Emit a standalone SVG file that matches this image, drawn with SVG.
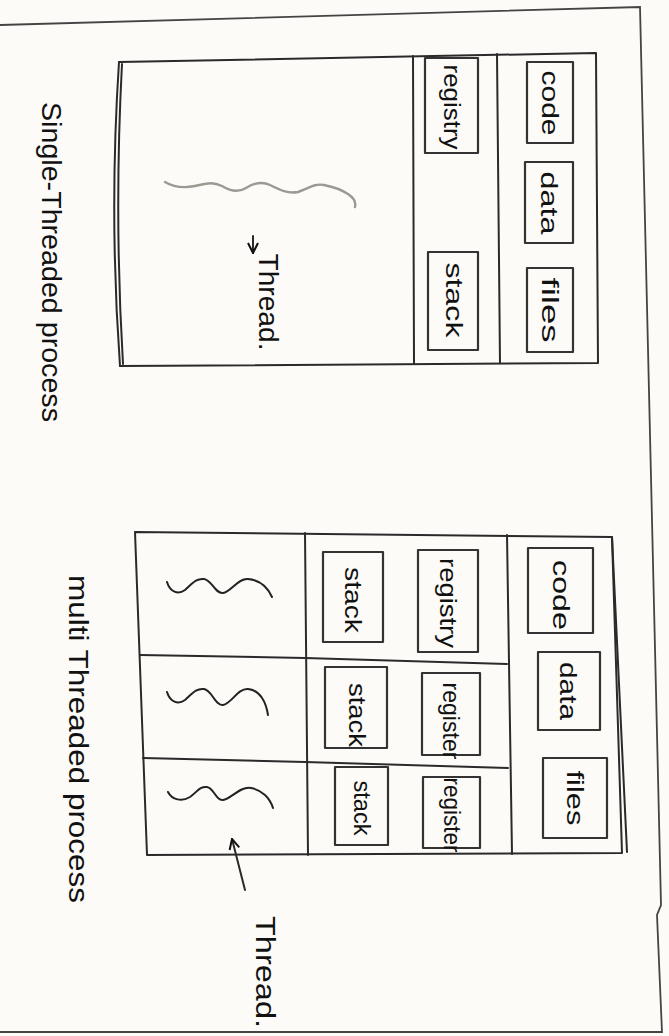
<svg xmlns="http://www.w3.org/2000/svg" width="669" height="1036" viewBox="0 0 669 1036">
<style>
.bg{fill:#fcfbf8}
.ln{fill:none;stroke:#2a2a2a;stroke-width:2;stroke-linecap:round;stroke-linejoin:round}
.box{fill:none;stroke:#333;stroke-width:2.2;stroke-linejoin:round}
.sq{fill:none;stroke:#222;stroke-width:2;stroke-linecap:round}
.sqg{fill:none;stroke:#9a9a92;stroke-width:2.4;stroke-linecap:round}
.pg{fill:none;stroke:#444;stroke-width:1.8}
text{font-family:"Liberation Sans",Arial,sans-serif;fill:#111;text-anchor:middle;dominant-baseline:central}
.bl{font-size:24px}
.lb{font-size:28px}
</style>
<defs>
<marker id="ah" viewBox="0 0 12 12" refX="11" refY="6" markerWidth="12" markerHeight="12" markerUnits="userSpaceOnUse" orient="auto">
<path d="M1,1 L11,6 L1,11" fill="none" stroke="#111" stroke-width="2"/>
</marker>
</defs>
<rect class="bg" x="0" y="0" width="669" height="1036"/>
<g id="page">
<path class="pg" d="M0,25 L640,7 L661,905 L657,915 L662,1032 L0,1032"/>
</g>
<g id="single-process">
<path class="ln" d="M119,62 L596,53 L598,363 L120,366"/>
<path class="ln" d="M119,62 Q109,214 120,366"/>
<path class="ln" d="M122,64 Q114,214 123,364"/>
<path class="ln" d="M413,56 L414,364"/>
<path class="ln" d="M497,54 L500,363"/>
<g id="s-code"><rect class="box" x="527" y="62" width="46" height="81"/><text class="bl" transform="translate(550,103) rotate(90)" textLength="65" lengthAdjust="spacingAndGlyphs">code</text></g>
<g id="s-data"><rect class="box" x="525" y="162" width="48" height="81"/><text class="bl" transform="translate(549,203) rotate(90)" textLength="63" lengthAdjust="spacingAndGlyphs">data</text></g>
<g id="s-files"><rect class="box" x="527" y="268" width="46" height="84"/><text class="bl" transform="translate(550,310) rotate(90)" textLength="65" lengthAdjust="spacingAndGlyphs">files</text></g>
<g id="s-registry"><rect class="box" x="425" y="58" width="53" height="95"/><text class="bl" transform="translate(452,107) rotate(90)" textLength="85" lengthAdjust="spacingAndGlyphs">registry</text></g>
<g id="s-stack"><rect class="box" x="428" y="252" width="50" height="98"/><text class="bl" transform="translate(454,300) rotate(90)" textLength="75" lengthAdjust="spacingAndGlyphs">stack</text></g>
<g id="s-thread"><path class="sqg" d="M165,182 C175,188 185,188 195,186 C205,184 212,181 222,186 C230,191 238,193 246,188 C254,183 262,181 270,185 C280,190 288,194 298,192 C308,189 314,183 324,185 C334,187 342,190 348,194 C354,198 356,203 355,207"/></g>
</g>
<g id="multi-process">
<path class="ln" d="M135,532 L612,537 L622,853 L147,855 Z"/>
<path class="ln" d="M612,537 L627,852"/>
<path class="ln" d="M305,533 L308,855"/>
<path class="ln" d="M507,535 L512,854"/>
<path class="ln" d="M140,655 L305,658 L507,664"/>
<path class="ln" d="M143,758 L305,762 L508,768"/>
<g id="m-code"><rect class="box" x="528" y="548" width="65" height="85"/><text class="bl" transform="translate(561,595) rotate(90)" textLength="70" lengthAdjust="spacingAndGlyphs">code</text></g>
<g id="m-data"><rect class="box" x="538" y="652" width="62" height="78"/><text class="bl" transform="translate(568,691) rotate(90)" textLength="58" lengthAdjust="spacingAndGlyphs">data</text></g>
<g id="m-files"><rect class="box" x="543" y="758" width="64" height="80"/><text class="bl" transform="translate(575,798) rotate(90)" textLength="55" lengthAdjust="spacingAndGlyphs">files</text></g>
<g id="m-registry"><rect class="box" x="418" y="550" width="60" height="102"/><text class="bl" transform="translate(448,603) rotate(90)" textLength="90" lengthAdjust="spacingAndGlyphs">registry</text></g>
<g id="m-register2"><rect class="box" x="422" y="673" width="58" height="82"/><text class="bl" transform="translate(451,721) rotate(90)" textLength="77" lengthAdjust="spacingAndGlyphs">register</text></g>
<g id="m-register3"><rect class="box" x="423" y="777" width="57" height="71"/><text class="bl" transform="translate(452,815) rotate(90)" textLength="75" lengthAdjust="spacingAndGlyphs">register</text></g>
<g id="m-stack1"><rect class="box" x="323" y="552" width="60" height="90"/><text class="bl" transform="translate(353,600) rotate(90)" textLength="66" lengthAdjust="spacingAndGlyphs">stack</text></g>
<g id="m-stack2"><rect class="box" x="325" y="667" width="62" height="81"/><text class="bl" transform="translate(357,715) rotate(90)" textLength="64" lengthAdjust="spacingAndGlyphs">stack</text></g>
<g id="m-stack3"><rect class="box" x="335" y="767" width="53" height="78"/><text class="bl" transform="translate(362,808) rotate(90)" textLength="55" lengthAdjust="spacingAndGlyphs">stack</text></g>
<g id="m-thread1"><path class="sq" d="M167,582 C170,592 178,595 185,590 C192,584 196,578 204,579 C212,580 215,594 223,593 C231,592 238,578 248,579 C260,580 268,588 272,597"/></g>
<g id="m-thread2"><path class="sq" d="M167,692 C170,702 178,705 185,700 C192,694 196,688 204,689 C212,690 215,706 223,705 C231,704 238,688 248,689 C260,690 266,702 268,715"/></g>
<g id="m-thread3"><path class="sq" d="M168,792 C172,800 182,802 190,797 C197,792 200,786 207,787 C214,788 216,801 223,800 C231,799 240,786 251,788 C262,790 270,798 273,808"/></g>
</g>
<g id="connectors">
<path class="ln" d="M253,236 L253,253" marker-end="url(#ah)"/>
<path class="ln" stroke-width="3" d="M245,890 L232,839" marker-end="url(#ah)"/>
</g>
<g id="labels">
<text class="lb" transform="translate(268,302) rotate(90)" textLength="97" lengthAdjust="spacingAndGlyphs">Thread.</text>
<text class="lb" transform="translate(265,972) rotate(90)" textLength="112" lengthAdjust="spacingAndGlyphs">Thread.</text>
<text class="lb" transform="translate(51,262) rotate(90)" textLength="320" lengthAdjust="spacingAndGlyphs">Single-Threaded process</text>
<text class="lb" transform="translate(78,739) rotate(90)" textLength="328" lengthAdjust="spacingAndGlyphs">multi Threaded process</text>
</g>
</svg>
